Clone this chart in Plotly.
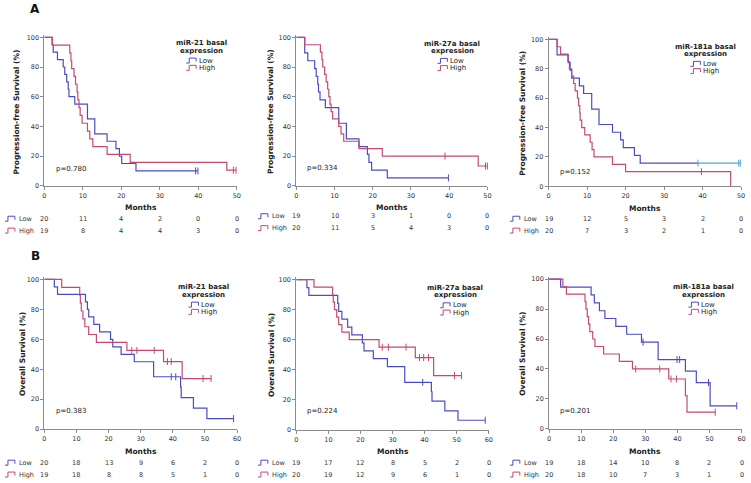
import plotly.graph_objects as go

W, H = 751, 483
LOW_C = "#4B4BC6"
HIGH_C = "#C44A6E"
TAIL_C = "#4FA6DE"
AXIS_C = "#8C8C8C"
TXT_C = "#222222"
NUM_C = "#333333"
FONT = "DejaVu Sans"

# ---------------- data ----------------
months_a = [0, 10, 20, 30, 40, 50]
months_b = [0, 10, 20, 30, 40, 50, 60]
surv_ticks = [0, 20, 40, 60, 80, 100]
groups = ["Low", "High"]

# A1  miR-21, progression-free survival
a1_low_t = [0, 2.0, 2.3, 3.4, 4.9, 5.3, 5.8, 6.2, 6.4, 7.9, 11.2, 13.1, 16.3, 18.6, 19.5, 20.1, 23.8, 39.9]
a1_low_s = [100, 95, 90, 85, 80, 75, 70, 65, 60, 55, 45, 35, 30, 25, 20, 15, 10, 10]
a1_low_ct = [39.3, 39.9]
a1_low_cs = [10, 10]
a1_high_t = [0, 2.1, 6.6, 6.9, 7.1, 7.7, 8.1, 8.5, 8.7, 9.0, 9.3, 9.8, 11.2, 11.8, 12.6, 16.3, 22.3, 47.4, 49.8]
a1_high_s = [100, 94.7, 89.5, 84.2, 78.9, 73.7, 68.4, 63.2, 57.9, 52.6, 47.4, 42.1, 36.8, 31.6, 26.3, 21.1, 15.8, 10.5, 10.5]
a1_high_ct = [49.1, 49.8]
a1_high_cs = [10.5, 10.5]
a1_risk_low = [20, 11, 4, 2, 0, 0]
a1_risk_high = [19, 8, 4, 4, 3, 0]
a1_p = "p=0.780"

# A2  miR-27a, progression-free survival
a2_low_t = [0, 2.2, 3.0, 4.8, 5.2, 5.6, 5.8, 6.2, 7.6, 11.1, 13.1, 16.4, 18.6, 19.0, 19.7, 23.8, 39.8]
a2_low_s = [100, 89.5, 84.2, 78.9, 73.7, 68.4, 63.2, 57.9, 52.6, 42.1, 31.6, 26.3, 21.1, 15.8, 10.5, 5.3, 5.3]
a2_low_ct = [39.8]
a2_low_cs = [5.3]
a2_high_t = [0, 2.2, 6.3, 6.7, 6.9, 7.4, 7.8, 8.2, 8.5, 8.8, 9.1, 9.5, 11.1, 11.7, 12.4, 16.4, 22.5, 47.6, 50.0]
a2_high_s = [100, 95, 90, 85, 80, 75, 70, 65, 60, 55, 50, 45, 40, 35, 30, 25, 20, 13.3, 13.3]
a2_high_ct = [38.9, 49.5, 50.0]
a2_high_cs = [20, 13.3, 13.3]
a2_risk_low = [19, 10, 3, 1, 0, 0]
a2_risk_high = [20, 11, 5, 4, 3, 0]
a2_p = "p=0.334"

# A3  miR-181a, progression-free survival
a3_low_t = [0, 2.2, 5.1, 5.6, 6.0, 8.0, 9.1, 11.2, 13.1, 16.6, 18.7, 19.4, 22.3, 23.8, 38.8]
a3_low_s = [100, 89.5, 84.2, 78.9, 73.7, 68.4, 63.2, 52.6, 42.1, 36.8, 31.6, 26.3, 21.1, 15.8, 15.8]
a3_tail_t = [38.8, 49.8]
a3_tail_s = [15.8, 15.8]
a3_low_ct = [38.8, 49.4, 49.8]
a3_low_cs = [15.8, 15.8, 15.8]
a3_high_t = [0, 2.2, 3.1, 5.0, 5.4, 6.0, 6.5, 6.9, 7.5, 7.8, 8.1, 8.2, 8.6, 9.4, 10.8, 11.3, 11.8, 16.6, 20.0, 47.3]
a3_high_s = [100, 95, 90, 85, 80, 75, 70, 65, 60, 55, 50, 45, 40, 35, 30, 25, 20, 15, 10, 0]
a3_high_ct = [39.7]
a3_high_cs = [10]
a3_risk_low = [19, 12, 5, 3, 2, 0]
a3_risk_high = [20, 7, 3, 2, 1, 0]
a3_p = "p=0.152"

# B1  miR-21, overall survival
b1_low_t = [0, 3.1, 4.1, 12.8, 13.4, 13.8, 15.4, 17.2, 20.6, 21.3, 23.9, 28.0, 34.0, 42.4, 42.6, 46.4, 50.6, 58.9]
b1_low_s = [100, 95, 90, 85, 80, 75, 70, 65, 60, 55, 50, 45, 35, 28, 21, 14, 7, 7]
b1_low_ct = [39.5, 40.9, 58.9]
b1_low_cs = [35, 35, 7]
b1_high_t = [0, 5.4, 11.0, 11.2, 11.5, 12.0, 12.6, 13.8, 16.2, 25.7, 37.1, 42.9, 51.9]
b1_high_s = [100, 94.7, 89.5, 84.2, 78.9, 73.7, 68.4, 63.2, 57.9, 52.6, 45.1, 33.8, 33.8]
b1_high_ct = [27.2, 28.8, 34.2, 38.3, 39.5, 49.4, 51.9]
b1_high_cs = [52.6, 52.6, 52.6, 45.1, 45.1, 33.8, 33.8]
b1_risk_low = [20, 18, 13, 9, 6, 2, 0]
b1_risk_high = [19, 18, 8, 8, 5, 1, 0]
b1_p = "p=0.383"

# B2  miR-27a, overall survival
b2_low_t = [0, 3.3, 3.9, 12.9, 13.2, 14.2, 16.0, 17.3, 20.6, 21.1, 24.0, 28.4, 33.8, 42.1, 42.3, 46.3, 50.4, 58.9]
b2_low_s = [100, 94.7, 89.5, 84.2, 78.9, 73.7, 68.4, 63.2, 57.9, 52.6, 47.4, 42.1, 31.6, 25.3, 19.0, 12.6, 6.3, 6.3]
b2_low_ct = [39.4, 58.9]
b2_low_cs = [31.6, 6.3]
b2_high_t = [0, 5.5, 11.3, 11.5, 11.9, 12.6, 13.2, 14.2, 16.5, 25.8, 37.1, 42.8, 51.5]
b2_high_s = [100, 95, 90, 85, 80, 75, 70, 65, 60, 55, 48.1, 36.1, 36.1]
b2_high_ct = [26.8, 28.7, 34.2, 38.4, 39.7, 41.2, 49.3, 51.5]
b2_high_cs = [55, 55, 55, 48.1, 48.1, 48.1, 36.1, 36.1]
b2_risk_low = [19, 17, 12, 8, 5, 2, 0]
b2_risk_high = [20, 19, 12, 9, 6, 1, 0]
b2_p = "p=0.224"

# B3  miR-181a, overall survival
b3_low_t = [0, 3.6, 13.1, 14.1, 15.7, 17.4, 20.8, 24.2, 28.8, 34.0, 42.5, 45.9, 50.2, 58.5]
b3_low_s = [100, 94.7, 89.5, 84.2, 78.9, 73.7, 68.4, 63.2, 57.9, 46.3, 38.6, 30.9, 15.4, 15.4]
b3_low_ct = [29.3, 39.9, 40.7, 49.7, 58.5]
b3_low_cs = [57.9, 46.3, 46.3, 30.9, 15.4]
b3_high_t = [0, 4.3, 5.4, 11.2, 11.5, 11.9, 12.3, 12.7, 13.6, 14.3, 17.0, 21.9, 26.0, 37.3, 42.5, 43.0, 51.8]
b3_high_s = [100, 95, 90, 85, 80, 75, 70, 65, 60, 55, 50, 45, 40, 33.3, 22.2, 11.1, 11.1]
b3_high_ct = [27.0, 34.5, 38.0, 39.7, 51.8]
b3_high_cs = [40, 40, 33.3, 33.3, 11.1]
b3_risk_low = [19, 18, 14, 10, 8, 2, 0]
b3_risk_high = [20, 18, 10, 7, 3, 1, 0]
b3_p = "p=0.201"

titles = ["miR-21 basal", "miR-27a basal", "miR-181a basal"]
PFS = "Progression-free Survival (%)"
OS = "Overall Survival (%)"

# ---------------- panel configuration (geometry in pixels) ----------------
panels = [
    dict(title=titles[0], ylab=PFS, p=a1_p, ticks=months_a,
         low=(a1_low_t, a1_low_s), high=(a1_high_t, a1_high_s), tail=None,
         lowc=(a1_low_ct, a1_low_cs), highc=(a1_high_ct, a1_high_cs),
         rl=a1_risk_low, rh=a1_risk_high,
         x0=42.7, x1=236.7, yb=186.7, unit=1.5, ylab_x=15, p_x=52, p_y=170,
         leg_cx=200.7, leg_y=42.7, tab_x=3, tab_y=220, months_y=209),
    dict(title=titles[1], ylab=PFS, p=a2_p, ticks=months_a,
         low=(a2_low_t, a2_low_s), high=(a2_high_t, a2_high_s), tail=None,
         lowc=(a2_low_ct, a2_low_cs), highc=(a2_high_ct, a2_high_cs),
         rl=a2_risk_low, rh=a2_risk_high,
         x0=296.7, x1=489.3, yb=186.7, unit=1.5, ylab_x=270.7, p_x=305, p_y=169,
         leg_cx=454, leg_y=43, tab_x=258, tab_y=217.5, months_y=209),
    dict(title=titles[2], ylab=PFS, p=a3_p, ticks=months_a,
         low=(a3_low_t, a3_low_s), high=(a3_high_t, a3_high_s), tail=(a3_tail_t, a3_tail_s),
         lowc=(a3_low_ct, a3_low_cs), highc=(a3_high_ct, a3_high_cs),
         rl=a3_risk_low, rh=a3_risk_high,
         x0=551, x1=745, yb=187.3, unit=1.485, ylab_x=525, p_x=560, p_y=172.5,
         leg_cx=709, leg_y=46, tab_x=512, tab_y=220, months_y=209.3),
    dict(title=titles[0], ylab=OS, p=b1_p, ticks=months_b,
         low=(b1_low_t, b1_low_s), high=(b1_high_t, b1_high_s), tail=None,
         lowc=(b1_low_ct, b1_low_cs), highc=(b1_high_ct, b1_high_cs),
         rl=b1_risk_low, rh=b1_risk_high,
         x0=42.7, x1=237, yb=432.6, unit=1.5125, ylab_x=20, p_x=52, p_y=414.3,
         leg_cx=203, leg_y=289.3, tab_x=3, tab_y=466.5, months_y=455),
    dict(title=titles[1], ylab=OS, p=b2_p, ticks=months_b,
         low=(b2_low_t, b2_low_s), high=(b2_high_t, b2_high_s), tail=None,
         lowc=(b2_low_ct, b2_low_cs), highc=(b2_high_ct, b2_high_cs),
         rl=b2_risk_low, rh=b2_risk_high,
         x0=296.7, x1=490.7, yb=433.2, unit=1.516, ylab_x=271.5, p_x=305, p_y=414.3,
         leg_cx=456.7, leg_y=290, tab_x=258, tab_y=466.5, months_y=455),
    dict(title=titles[2], ylab=OS, p=b3_p, ticks=months_b,
         low=(b3_low_t, b3_low_s), high=(b3_high_t, b3_high_s), tail=None,
         lowc=(b3_low_ct, b3_low_cs), highc=(b3_high_ct, b3_high_cs),
         rl=b3_risk_low, rh=b3_risk_high,
         x0=551.5, x1=745.5, yb=432.3, unit=1.5125, ylab_x=525, p_x=560, p_y=414,
         leg_cx=707, leg_y=289.3, tab_x=512, tab_y=466.5, months_y=455),
]

YMAX = 101.5


def fx(px):
    return px / W


def fy(py):
    return 1 - py / H


def icon_path(lx, cy):
    pts = [(lx, cy + 2.5), (lx + 3, cy + 2.5), (lx + 3, cy - 2.5), (lx + 10, cy - 2.5), (lx + 10, cy + 1)]
    return "M " + " L ".join(f"{fx(a):.5f},{fy(b):.5f}" for a, b in pts)


fig = go.Figure()
annotations = []
shapes = []
layout_axes = {}

for i, pn in enumerate(panels, start=1):
    xs = "" if i == 1 else str(i)
    xref, yref = "x" + xs, "y" + xs
    xmax = pn["ticks"][-1]

    # curves
    for (t, s), col in ((pn["low"], LOW_C), (pn["high"], HIGH_C)):
        fig.add_trace(go.Scatter(x=t, y=s, mode="lines", line=dict(color=col, width=1.2, shape="hv"),
                                 xaxis=xref, yaxis=yref, showlegend=False, hoverinfo="skip"))
    if pn["tail"] is not None:
        fig.add_trace(go.Scatter(x=pn["tail"][0], y=pn["tail"][1], mode="lines",
                                 line=dict(color=TAIL_C, width=1.2, shape="hv"),
                                 xaxis=xref, yaxis=yref, showlegend=False, hoverinfo="skip"))
    for (ct, cs), col in ((pn["lowc"], TAIL_C if pn["tail"] is not None else LOW_C), (pn["highc"], HIGH_C)):
        fig.add_trace(go.Scatter(x=ct, y=cs, mode="markers", cliponaxis=False,
                                 marker=dict(symbol="line-ns-open", size=5, color=col,
                                             line=dict(color=col, width=1)),
                                 xaxis=xref, yaxis=yref, showlegend=False, hoverinfo="skip"))

    # axes
    ybot = pn["yb"]
    ytop = ybot - YMAX * pn["unit"]
    axcommon = dict(showline=True, linecolor=AXIS_C, linewidth=1, ticks="outside", ticklen=3,
                    tickcolor=AXIS_C, tickwidth=1, showgrid=False, zeroline=False,
                    ticklabeloverflow="allow",
                    tickfont=dict(family=FONT, size=6.5, color=NUM_C), fixedrange=True)
    layout_axes["xaxis" + xs] = dict(axcommon, domain=[fx(pn["x0"]), fx(pn["x1"])], range=[0, xmax],
                                     tickvals=pn["ticks"], anchor=yref)
    layout_axes["yaxis" + xs] = dict(axcommon, domain=[fy(ybot), fy(ytop)], range=[0, YMAX],
                                     tickvals=surv_ticks, anchor=xref)

    # y label
    annotations.append(dict(text=f"<b>{pn['ylab']}</b>", x=fx(pn["ylab_x"]), y=fy(ybot - 50 * pn["unit"]),
                            xref="paper", yref="paper", textangle=-90, showarrow=False,
                            font=dict(family=FONT, size=7.5, color=TXT_C), xanchor="center", yanchor="middle"))
    # Months label
    annotations.append(dict(text="<b>Months</b>", x=xmax / 2, y=fy(pn["months_y"]), xref=xref, yref="paper",
                            showarrow=False, font=dict(family=FONT, size=7.5, color=TXT_C),
                            xanchor="center", yanchor="middle"))
    # p-value
    annotations.append(dict(text=pn["p"], x=fx(pn["p_x"]), y=fy(pn["p_y"]), xref="paper", yref="paper",
                            showarrow=False, font=dict(family=FONT, size=7, color=TXT_C),
                            xanchor="left", yanchor="middle"))
    # legend block
    cx, ly = pn["leg_cx"], pn["leg_y"]
    for k, line in enumerate([pn["title"], "expression"]):
        annotations.append(dict(text=f"<b>{line}</b>", x=fx(cx), y=fy(ly + 7.5 * k), xref="paper", yref="paper",
                                showarrow=False, font=dict(family=FONT, size=7, color=TXT_C),
                                xanchor="center", yanchor="middle"))
    for k, (g, col) in enumerate(zip(groups, (LOW_C, HIGH_C))):
        yy = ly + 17.5 + 7.3 * k
        shapes.append(dict(type="path", path=icon_path(cx - 15, yy), xref="paper", yref="paper",
                           line=dict(color=col, width=1)))
        annotations.append(dict(text=g, x=fx(cx - 4), y=fy(yy), xref="paper", yref="paper", showarrow=False,
                                font=dict(family=FONT, size=7, color=TXT_C), xanchor="left", yanchor="middle"))
    # risk table
    for k, (g, col, vals) in enumerate(zip(groups, (LOW_C, HIGH_C), (pn["rl"], pn["rh"]))):
        yy = pn["tab_y"] + 12 * k
        shapes.append(dict(type="path", path=icon_path(pn["tab_x"], yy), xref="paper", yref="paper",
                           line=dict(color=col, width=1)))
        annotations.append(dict(text=g, x=fx(pn["tab_x"] + 12), y=fy(yy), xref="paper", yref="paper",
                                showarrow=False, font=dict(family=FONT, size=6.5, color=NUM_C),
                                xanchor="left", yanchor="middle"))
        for tv, v in zip(pn["ticks"], vals):
            annotations.append(dict(text=str(v), x=tv, y=fy(yy), xref=xref, yref="paper", showarrow=False,
                                    font=dict(family=FONT, size=6.5, color=NUM_C),
                                    xanchor="center", yanchor="middle"))

# panel letters
for letter, (lx, ly) in (("A", (33, 8.5)), ("B", (33.5, 258))):
    annotations.append(dict(text=f"<b>{letter}</b>", x=fx(lx), y=fy(ly), xref="paper", yref="paper",
                            showarrow=False, font=dict(family=FONT, size=12, color="#111111"),
                            xanchor="center", yanchor="middle"))

fig.update_layout(width=W, height=H, margin=dict(l=0, r=0, t=0, b=0, pad=0),
                  paper_bgcolor="white", plot_bgcolor="white", showlegend=False,
                  annotations=annotations, shapes=shapes, **layout_axes)

fig.write_html("out.html", config={"displayModeBar": False},
               post_script="document.body.style.margin='0';document.body.style.overflow='hidden';")
